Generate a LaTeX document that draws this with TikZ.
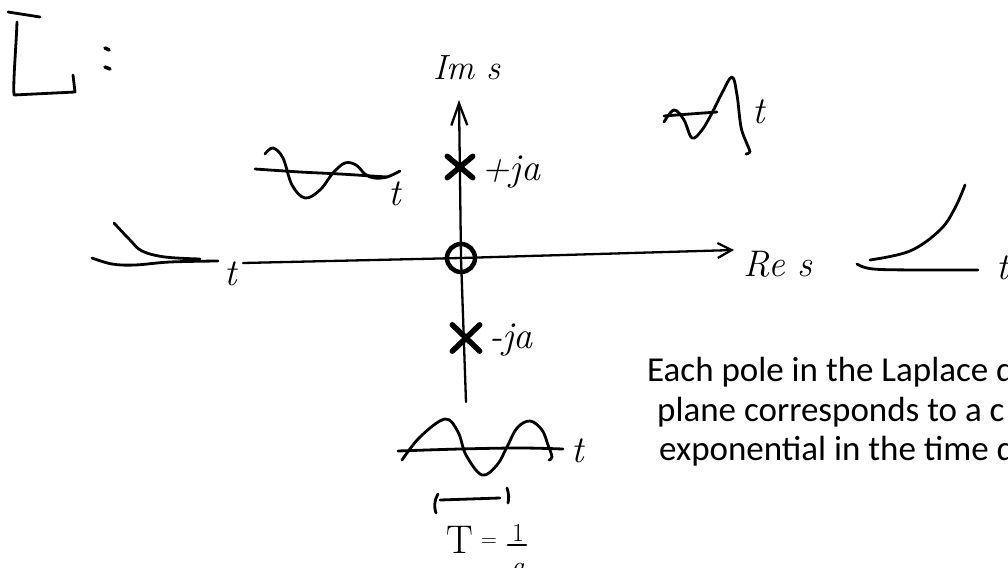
\documentclass[tikz,border=0pt]{standalone}
\usepackage{fontspec}
\newfontfamily\calib{Carlito}
\usetikzlibrary{arrows.meta}
\begin{document}
\begin{tikzpicture}[x=1pt,y=-1pt,
  axisline/.style={line width=2.3pt,line cap=round},
  hand/.style={line width=2.8pt,line cap=round,line join=round},
  polex/.style={line width=5.5pt,line cap=round},
  handtxt/.style={font=\fontsize{38}{42}\selectfont\itshape,inner sep=0pt},
  note/.style={font=\calib\fontsize{35}{42}\selectfont,anchor=base west,inner sep=0pt},
  polemark/.style={inner sep=0pt}
]
\useasboundingbox (0,0) rectangle (1008,567);
\clip (0,0) rectangle (1008,567);

% Laplace symbol and colon
\draw[hand] (8,12) -- (40,17);
\draw[hand] (17,22) .. controls (16,50) and (13,80) .. (14,95) -- (75,92) -- (73,75);
\draw[line width=3.5pt,line cap=round] (105,48) -- (109,50) (105,67) -- (110,69);

% axes
\node[draw,circle,line width=4.5pt,minimum size=28pt,inner sep=0pt] (o) at (461,258) {};
\coordinate (xl) at (243,263);
\coordinate (xr) at (734,250);
\coordinate (yb) at (466,402);
\coordinate (yt) at (459,100);
\draw[axisline,-{Straight Barb[length=14pt,width=15pt]}] (xl) -- (o.center) -- (xr);
\draw[axisline,-{Straight Barb[length=22pt,width=16pt]}] (yb) -- (o.center) -- (yt);

% poles
\node[polemark,minimum width=25pt,minimum height=21pt] (pp) at (460,167) {};
\draw[polex] (pp.north west) -- (pp.south east) (pp.north east) -- (pp.south west);
\node[polemark,minimum width=27pt,minimum height=26pt] (pm) at (466,338) {};
\draw[polex] (pm.north west) -- (pm.south east) (pm.north east) -- (pm.south west);

% axis and pole labels
\node[handtxt,font=\fontsize{35}{40}\selectfont\itshape] (lim) at (467,68) {Im s};
\node[handtxt,font=\fontsize{37}{42}\selectfont\itshape] (lre) at (778,264) {Re s};
\node[handtxt,font=\fontsize{38}{42}\selectfont\itshape,anchor=west] (lpp) at (481,172) {+ja};
\node[handtxt,font=\fontsize{38}{42}\selectfont\itshape,anchor=west] (lpm) at (489,340) {-ja};

% left: decaying exponential
\draw[hand] plot[smooth,tension=0.6] coordinates {(92,258) (112,264) (135,265) (170,262) (218,261)};
\draw[hand] plot[smooth,tension=0.6] coordinates {(114,223) (130,240) (142,251) (165,257) (200,259)};
\node[handtxt] (lt3) at (231,274) {t};

% top-left: decaying oscillation
\draw[hand] plot[smooth,tension=0.6] coordinates {(255,169) (300,172) (340,174) (387,177)};
\draw[hand] plot[smooth,tension=0.6] coordinates {(265,154) (273,148) (283,158) (292,185) (305,198) (320,190) (333,173) (345,163) (356,165) (365,174) (374,178) (387,177) (400,171)};
\node[handtxt] (lt1) at (395,194) {t};

% top-right: growing oscillation
\draw[hand] plot[smooth,tension=0.6] coordinates {(664,116) (690,114) (717,112)};
\draw[hand] plot[smooth,tension=0.6] coordinates {(664,122) (674,110) (684,120) (692,138) (702,130) (712,113) (722,93) (732,77) (737,95) (741,127) (747,144) (750,152) (746,154)};
\node[handtxt] (lt2) at (759,112) {t};

% right: growing exponential
\draw[hand] plot[smooth,tension=0.6] coordinates {(857,264) (873,269) (920,270) (978,270)};
\draw[hand] plot[smooth,tension=0.6] coordinates {(870,260) (910,251) (940,230) (955,208) (965,185)};
\node[handtxt] (lt5) at (1003,268) {t};

% bottom: pure oscillation
\draw[hand] plot[smooth,tension=0.6] coordinates {(398,451) (460,449) (520,448) (563,449)};
\draw[hand] plot[smooth,tension=0.6] coordinates {(402,460) (420,437) (445,419) (458,432) (466,455) (482,475) (497,465) (507,447) (517,428) (530,421) (542,430) (548,445) (552,457) (549,460)};
\node[handtxt] (lt4) at (578,451) {t};

% period bracket and formula
\coordinate (bl) at (440,500);
\coordinate (br) at (500,498);
\draw[hand] (bl) -- (br);
\draw[hand] (438,494) .. controls (434,500) and (434,508) .. (436,513);
\draw[hand] (507,488) .. controls (509,494) and (509,499) .. (508,503);
\node[handtxt,font=\fontsize{40}{44}\selectfont] (lT) at (460,540) {T};
\node[handtxt,font=\fontsize{22}{26}\selectfont] (leq) at (489,543) {=};
\node[handtxt,font=\fontsize{26}{30}\selectfont] (lone) at (518,533) {1};
\coordinate (fl) at (508,545);
\coordinate (fr) at (526,545);
\draw[hand] (fl) -- (fr);
\node[handtxt,font=\fontsize{28}{32}\selectfont\itshape] (lden) at (518,569) {a};

% explanatory text
\node[note] (n1) at (647,381) {Each pole in the Laplace d};
\node[note] (n2) at (657,421) {plane corresponds to a c};
\node[note] (n3) at (659,460) {exponential in the time d};
\end{tikzpicture}
\end{document}
